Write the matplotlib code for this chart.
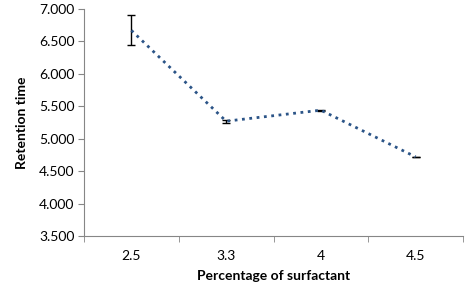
import matplotlib.pyplot as plt
import numpy as np

plt.rcParams['font.family'] = ['Lato', 'DejaVu Sans']

# data
categories = ['2.5', '3.3', '4', '4.5']
retention = [6.67, 5.27, 5.44, 4.72]
err = [0.23, 0.02, 0.01, 0.005]

fig = plt.figure(figsize=(4.69, 2.88), dpi=100)
ax = fig.add_axes([84 / 469, 1 - 236 / 288, (463 - 84) / 469, (236 - 9) / 288])

x = np.arange(len(categories))
ax.errorbar(x, retention, yerr=err, color='#2b5487', ls=':', lw=2.0,
            ecolor='black', elinewidth=1, capsize=3, capthick=1)

ax.set_xlim(-0.5, len(categories) - 0.5)
ax.set_ylim(3.5, 7.0)
ax.set_yticks(np.arange(3.5, 7.01, 0.5))
ax.set_yticklabels(['%.3f' % v for v in np.arange(3.5, 7.01, 0.5)])
ax.set_xticks(x)
ax.set_xticklabels(categories)
ax.set_xticks(np.arange(-0.5, len(categories), 1), minor=True)
ax.tick_params(axis='x', which='major', length=0, pad=10, labelsize=10)
ax.tick_params(axis='x', which='minor', length=4, color='#868686')
ax.tick_params(axis='y', length=4, color='#868686', labelsize=10, pad=3)

for s in ['top', 'right']:
    ax.spines[s].set_visible(False)
for s in ['left', 'bottom']:
    ax.spines[s].set_color('#868686')

ax.set_xlabel('Percentage of surfactant', fontweight='bold', fontsize=10, labelpad=6)
ax.set_ylabel('Retention time', fontweight='bold', fontsize=10, labelpad=8)

fig.savefig('out.png', dpi=100)
